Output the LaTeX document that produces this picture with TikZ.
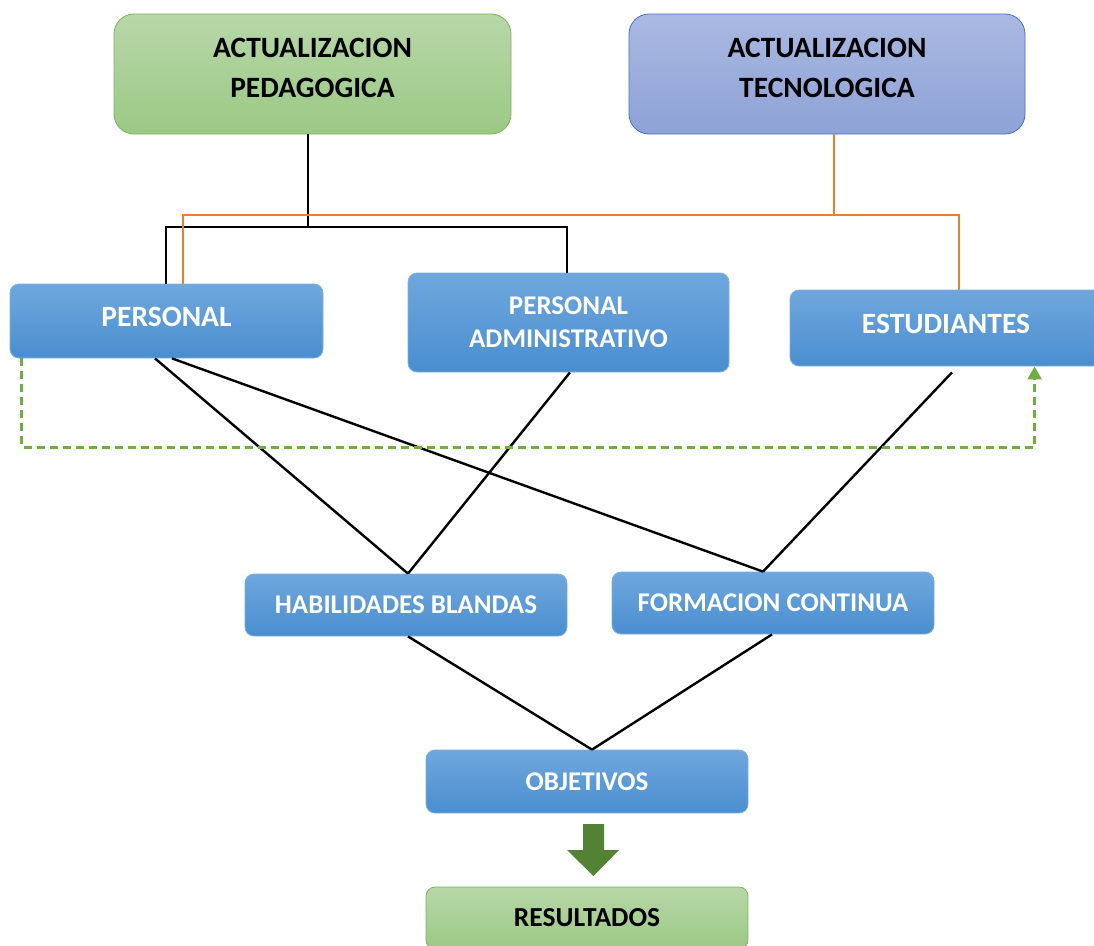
\documentclass[tikz,border=0pt]{standalone}
\usepackage{fontspec}
\setmainfont{Carlito}
\usetikzlibrary{calc,arrows.meta}
\definecolor{gTop}{HTML}{B7D7A8}
\definecolor{gBot}{HTML}{9BC985}
\definecolor{gBorder}{HTML}{7DB35A}
\definecolor{pTop}{HTML}{AAB9E2}
\definecolor{pBot}{HTML}{8DA2D6}
\definecolor{pBorder}{HTML}{4472C4}
\definecolor{bTop}{HTML}{6FA7DC}
\definecolor{bBot}{HTML}{4A8ED0}
\definecolor{bBorder}{HTML}{7AB0E0}
\definecolor{oLine}{HTML}{ED7D31}
\definecolor{gDash}{HTML}{70AD47}
\definecolor{gArrow}{HTML}{548235}
\tikzset{
  box/.style={rectangle, inner sep=0pt, align=center, line width=0.8pt},
  bluebox/.style={box, rounded corners=9pt, top color=bTop, bottom color=bBot, draw=bBorder, text=white,
    font=\fontsize{27}{33}\selectfont\bfseries},
  bigfont/.style={font=\fontsize{29.5}{33}\selectfont\bfseries},
  greenbox/.style={box, rounded corners=20pt, top color=gTop, bottom color=gBot, draw=gBorder},
  purplebox/.style={box, rounded corners=20pt, top color=pTop, bottom color=pBot, draw=pBorder},
  toptext/.style={align=center, inner sep=0pt, text=black, font=\fontsize{29.5}{40}\selectfont\bfseries},
  blk/.style={draw=black, line width=2.4pt},
  org/.style={draw=oLine, line width=2.4pt},
  gdash/.style={draw=gDash, line width=2.5pt, dash pattern=on 8pt off 5pt},
}
\begin{document}
\begin{tikzpicture}[x=1pt,y=-1pt]
\useasboundingbox (0,0) rectangle (1094,945);
% top boxes
\node[greenbox, minimum width=397, minimum height=120] (ap) at (312.5,74) {};
\node[toptext] (apt) at ($(ap.center)+(0,-6)$) {ACTUALIZACION\\PEDAGOGICA};
\node[purplebox, minimum width=396, minimum height=120] (at) at (827,74) {};
\node[toptext] (att) at ($(at.center)+(0,-6)$) {ACTUALIZACION\\TECNOLOGICA};
% middle row
\node[bluebox, minimum width=313, minimum height=74] (p) at (166.5,321) {};
\node[bigfont, text=white, inner sep=0pt] (pt) at ($(p.center)+(0,-4)$) {PERSONAL};
\node[bluebox, minimum width=321, minimum height=99] (pa) at (568.5,322.5) {PERSONAL\\ADMINISTRATIVO};
\node[bluebox, minimum width=312, minimum height=76] (es) at (946,328) {};
\node[bigfont, text=white, inner sep=0pt] (est) at ($(es.center)+(0,-4)$) {ESTUDIANTES};
% lower
\node[bluebox, minimum width=322, minimum height=62] (hb) at (406,605) {HABILIDADES BLANDAS};
\node[bluebox, minimum width=322, minimum height=62] (fc) at (773,603) {FORMACION CONTINUA};
\node[bluebox, minimum width=322, minimum height=63] (ob) at (587,781.5) {OBJETIVOS};
\node[box, rounded corners=9pt, top color=gTop, bottom color=gBot, draw=gBorder, text=black,
  font=\fontsize{27.5}{33}\selectfont\bfseries, minimum width=322, minimum height=62] (rs) at (587,918) {RESULTADOS};
% black tree
\coordinate (j1) at (308,227);
\coordinate (bl) at (166,227);
\coordinate (br) at (567,227);
\draw[blk] (ap.south -| j1) -- (j1);
\draw[blk] (p.north -| bl) -- (bl) -- (br) -- (pa.north -| br);
% orange tree
\coordinate (oj) at (834,215);
\coordinate (ol) at (183,215);
\coordinate (or) at (959,215);
\draw[org] (at.south -| oj) -- (oj);
\draw[org] (p.north -| ol) -- (ol) -- (or) -- (es.north -| or);
% diagonals
\draw[blk] ($(p.south)+(-11.5,0)$) -- ($(hb.north)+(2,0)$);
\draw[blk] ($(p.south)+(5.5,0)$) -- ($(fc.north)+(-10,0)$);
\draw[blk] ($(pa.south)+(1.5,0)$) -- ($(hb.north)+(2,0)$);
\draw[blk] ($(es.south)+(6,6)$) -- ($(fc.north)+(-10,0)$);
\draw[blk] ($(hb.south)+(2,0)$) -- ($(ob.north)+(5,0)$);
\draw[blk] ($(fc.south)+(-1,0)$) -- ($(ob.north)+(5,0)$);
% green dashed feedback
\draw[gdash, -{Triangle[width=14pt,length=13pt]}] ($(p.south west)+(12,0)$) -- ++(0,89) -| ($(es.south west)+(245,0)$);
% big arrow
\fill[gArrow] (583,824) -- (604,824) -- (604,850) -- (619,850) -- (593.5,876) -- (567,850) -- (583,850) -- cycle;
\end{tikzpicture}
\end{document}
